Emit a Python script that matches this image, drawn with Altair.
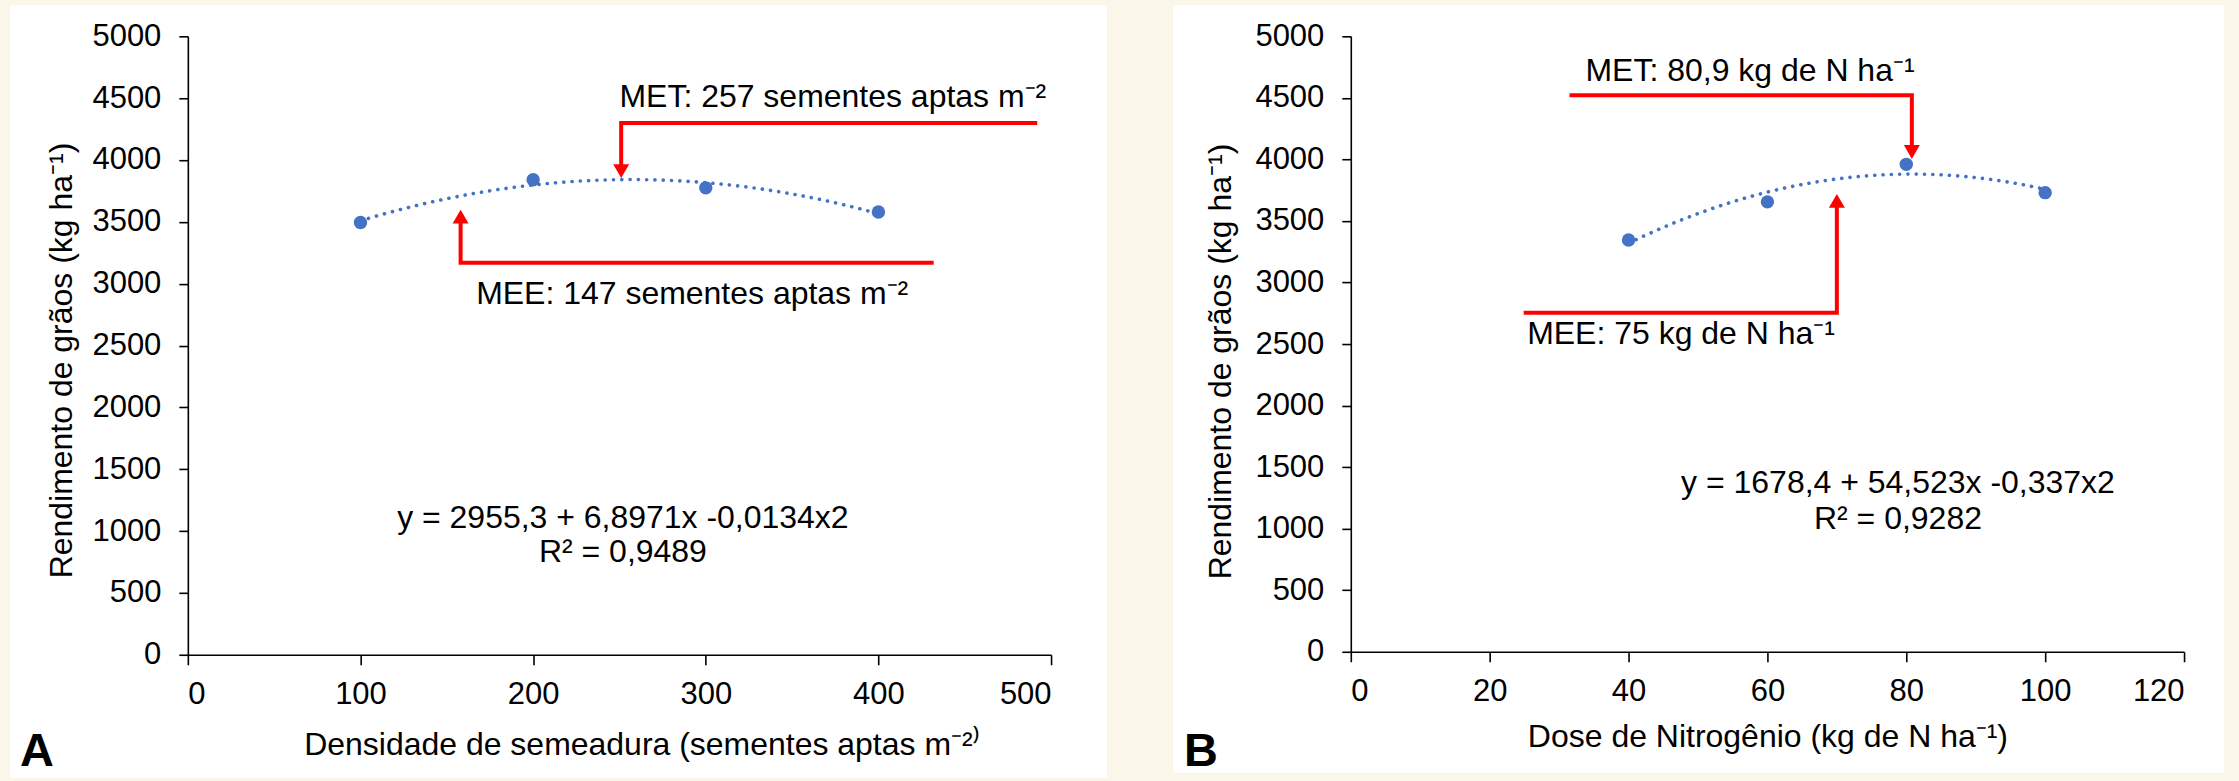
import altair as alt
import pandas as pd

FONT = "Liberation Sans"
BLUE = "#4472C4"
RED = "#FF0000"
PAGE = "#FAF6EA"

# ---------------- Panel A : seeding density ----------------
a_dens = [100, 200, 300, 400]
a_yield = [3495, 3840, 3775, 3580]
a_x_ticks = [0, 100, 200, 300, 400, 500]
a_x_title = "Densidade de semeadura (sementes aptas m⁻²⁾"

a_eq_text = ["y = 2955,3 + 6,8971x -0,0134x2", "R² = 0,9489"]
a_eq_x = [252, 252]
a_eq_y = [1109, 829]

a_note_text = ["MET: 257 sementes aptas m⁻²", "MEE: 147 sementes aptas m⁻²"]
a_note_x = [250, 167]
a_note_y = [4506, 2918]

a_arrow_id = ["met", "met", "met", "mee", "mee", "mee"]
a_arrow_x = [492, 251, 251, 432, 158, 158]
a_arrow_y = [4300, 4300, 3960, 3170, 3170, 3490]
a_head_x = [251, 158]
a_head_y = [3910, 3542]
a_head_shape = ["triangle-down", "triangle-up"]

# ---------------- Panel B : nitrogen dose ----------------
b_dose = [40, 60, 80, 100]
b_yield = [3345, 3655, 3960, 3730]
b_x_ticks = [0, 20, 40, 60, 80, 100, 120]
b_x_title = "Dose de Nitrogênio (kg de N ha⁻¹)"

b_eq_text = ["y = 1678,4 + 54,523x -0,337x2", "R² = 0,9282"]
b_eq_x = [78.8, 78.8]
b_eq_y = [1369, 1077]

b_note_text = ["MET: 80,9 kg de N ha⁻¹", "MEE: 75 kg de N ha⁻¹"]
b_note_x = [33.8, 25.4]
b_note_y = [4716, 2584]

b_arrow_id = ["met", "met", "met", "mee", "mee", "mee"]
b_arrow_x = [31.5, 80.8, 80.8, 24.9, 70.0, 70.0]
b_arrow_y = [4521, 4521, 4110, 2754, 2754, 3615]
b_head_x = [80.8, 70.0]
b_head_y = [4060, 3663]
b_head_shape = ["triangle-down", "triangle-up"]

y_ticks = list(range(0, 5001, 500))
y_title = "Rendimento de grãos (kg ha⁻¹)"


def axis_common(**kw):
    base = dict(
        labelFont=FONT, labelFontSize=31, labelColor="black", format="d",
        titleFont=FONT, titleFontSize=32, titleColor="black", titleFontWeight="normal",
        domainColor="black", domainWidth=1.6, tickColor="black", tickWidth=1.6,
        grid=False, zindex=1,
    )
    base.update(kw)
    return alt.Axis(**base)


def panel(xs, ys, xdom, xticks, xtitle, w, h, eq, notes, arrows, heads,
          letter, bg, xtitle_pos, ytitle_pos):
    xaxis = axis_common(values=xticks, title=xtitle, tickSize=10, labelPadding=15,
                        titleX=xtitle_pos[0], titleY=xtitle_pos[1],
                        titleBaseline="middle", titleAlign="center")
    yaxis = axis_common(values=y_ticks, title=y_title, tickSize=9, labelPadding=18,
                        titleX=ytitle_pos[0], titleY=ytitle_pos[1], titleAngle=270,
                        titleBaseline="middle", titleAlign="center")
    X = alt.X("x:Q", scale=alt.Scale(domain=xdom, nice=False, zero=False), axis=xaxis)
    Y = alt.Y("y:Q", scale=alt.Scale(domain=[0, 5000], nice=False), axis=yaxis)

    layers = []
    one = pd.DataFrame({"k": [0]})
    if bg["page"]:
        layers.append(alt.Chart(one).mark_rect(color=PAGE).encode(
            x=alt.value(bg["page"][0]), x2=alt.value(bg["page"][1]),
            y=alt.value(bg["page"][2]), y2=alt.value(bg["page"][3])))
    layers.append(alt.Chart(one).mark_rect(color="white").encode(
        x=alt.value(bg["panel"][0]), x2=alt.value(bg["panel"][1]),
        y=alt.value(bg["panel"][2]), y2=alt.value(bg["panel"][3])))

    pts = pd.DataFrame({"x": xs, "y": ys})
    layers.append(alt.Chart(pts).transform_regression(
        "x", "y", method="poly", order=2).mark_line(
        color=BLUE, strokeWidth=3.6, strokeDash=[0.1, 8.2], strokeCap="round").encode(x=X, y=Y))
    layers.append(alt.Chart(pts).mark_circle(color=BLUE, size=180, opacity=1).encode(x=X, y=Y))

    adf = pd.DataFrame({"x": arrows[1], "y": arrows[2], "id": arrows[0],
                        "o": list(range(len(arrows[0])))})
    layers.append(alt.Chart(adf).mark_line(color=RED, strokeWidth=4).encode(
        x=X, y=Y, detail="id:N", order="o:Q"))
    hdf = pd.DataFrame({"x": heads[0], "y": heads[1], "s": heads[2]})
    layers.append(alt.Chart(hdf).mark_point(filled=True, color=RED, size=256, opacity=1,
                                            strokeWidth=0).encode(
        x=X, y=Y, shape=alt.Shape("s:N", scale=None)))

    ndf = pd.DataFrame({"x": notes[1], "y": notes[2], "t": notes[0]})
    layers.append(alt.Chart(ndf).mark_text(align="left", baseline="middle", font=FONT,
                                           fontSize=32, color="black").encode(
        x=X, y=Y, text="t:N"))
    edf = pd.DataFrame({"x": eq[1], "y": eq[2], "t": eq[0]})
    layers.append(alt.Chart(edf).mark_text(align="center", baseline="middle", font=FONT,
                                           fontSize=32, color="black").encode(
        x=X, y=Y, text="t:N"))
    layers.append(alt.Chart(one).mark_text(align="left", baseline="alphabetic", font=FONT,
                                           fontSize=47, fontWeight="bold", color="black").encode(
        x=alt.value(letter[1]), y=alt.value(letter[2]), text=alt.value(letter[0])))

    return alt.layer(*layers).properties(width=w, height=h)


chart_a = panel(a_dens, a_yield, [0, 500], a_x_ticks, a_x_title, 864, 619,
                (a_eq_text, a_eq_x, a_eq_y), (a_note_text, a_note_x, a_note_y),
                (a_arrow_id, a_arrow_x, a_arrow_y), (a_head_x, a_head_y, a_head_shape),
                ("A", -168, 730),
                {"page": (-187, 2052, -35, 746), "panel": (-178, 920, -31, 742)},
                (454, 90), (-126, 324))

chart_b = panel(b_dose, b_yield, [0, 120], b_x_ticks, b_x_title, 834, 616,
                (b_eq_text, b_eq_x, b_eq_y), (b_note_text, b_note_x, b_note_y),
                (b_arrow_id, b_arrow_x, b_arrow_y), (b_head_x, b_head_y, b_head_shape),
                ("B", -167, 730),
                {"page": None, "panel": (-178, 874, -31, 737)},
                (417, 85), (-130, 325))

chart = alt.hconcat(chart_a, chart_b, spacing=300).properties(
    padding=0, bounds="flush", background=PAGE
).configure_view(stroke="transparent")

chart.save("out.html", embed_options={"renderer": "svg", "actions": False})
